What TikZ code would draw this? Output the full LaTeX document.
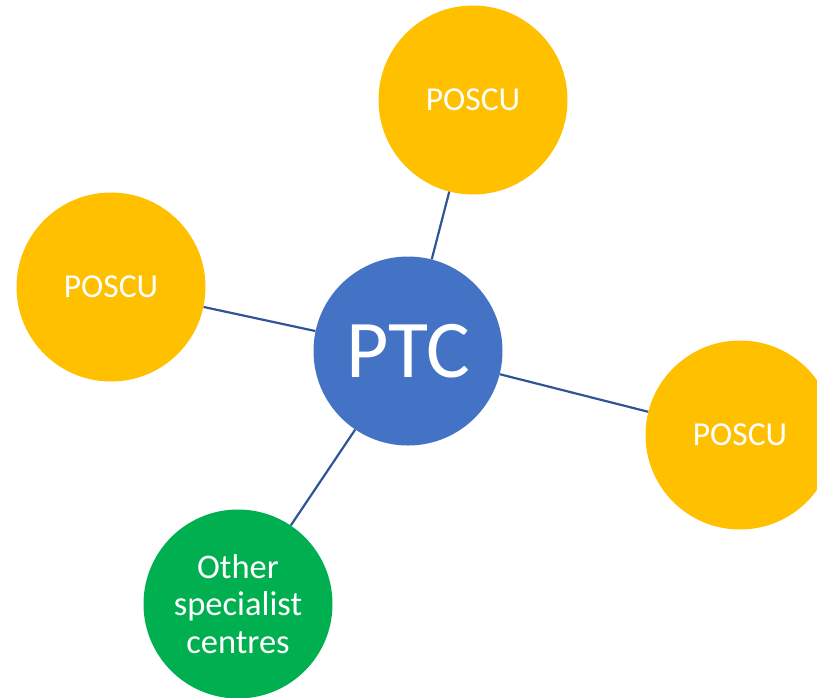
\documentclass[tikz,border=0pt]{standalone}
\usepackage{fontspec}
\setmainfont{Carlito}
\definecolor{poscugold}{HTML}{FFC000}
\definecolor{ptcblue}{HTML}{4472C4}
\definecolor{centregreen}{HTML}{00B050}
\definecolor{linkblue}{HTML}{2F5597}

\begin{document}
\begin{tikzpicture}[
        x=1pt,y=-1pt,
        hub/.style={circle,minimum size=189pt,inner sep=0pt,text=white},
        ptc/.style={hub,fill=ptcblue,font=\fontsize{82}{94}\selectfont},
        poscu/.style={hub,fill=poscugold,font=\fontsize{33.5}{40}\selectfont},
        centre/.style={hub,fill=centregreen,align=center,font=\fontsize{34.5}{37.5}\selectfont},
        link/.style={linkblue,line width=2.2pt}
    ]
        \useasboundingbox (0,0) rectangle (817,697);
        \node[ptc] (ptc) at (408,351) {PTC};
        \node[poscu] (top) at (473,100) {POSCU};
        \node[poscu] (left) at (111,287) {POSCU};
        \node[poscu] (right) at (740,435) {POSCU};
        \node[centre] (other) at (238,604) {Other\\specialist\\centres};
        \foreach \n in {top,left,right,other} {
            \draw[link] (ptc) -- (\n);
        }
    \end{tikzpicture}
\end{document}
